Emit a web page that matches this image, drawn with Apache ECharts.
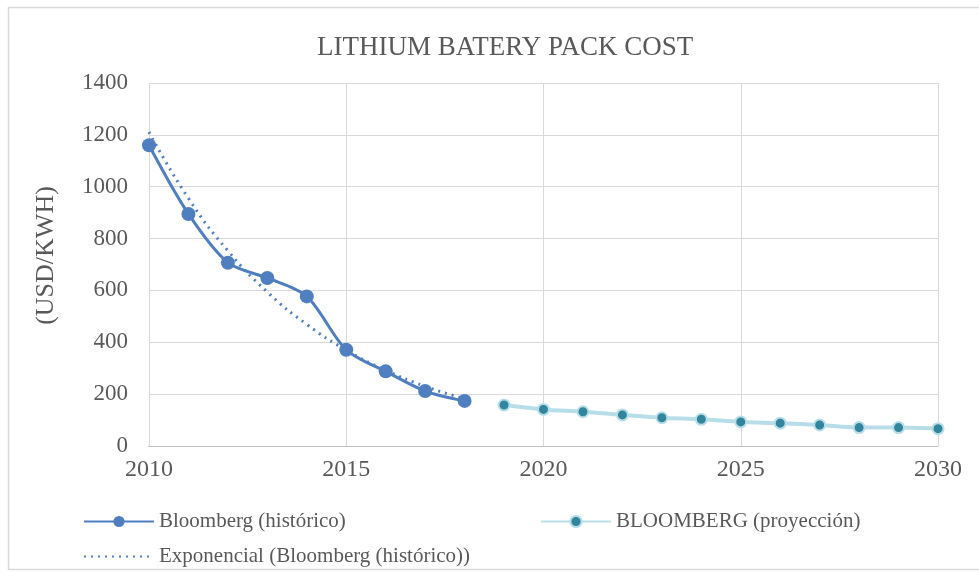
<!DOCTYPE html>
<html>
<head>
<meta charset="utf-8">
<script src="https://cdn.jsdelivr.net/npm/echarts@6/dist/echarts.min.js"></script>
<style>
  html, body { margin: 0; padding: 0; background: #fff; }
  #chart { width: 979px; height: 573px; }
</style>
</head>
<body>
<div id="chart"></div>
<script>
// Historical pack prices (USD/kWh)
const histYears = [2010, 2011, 2012, 2013, 2014, 2015, 2016, 2017, 2018];
const histValues = [1160, 895, 707, 648, 577, 371, 288, 212, 174];

// Projected pack prices
const projYears = [2019, 2020, 2021, 2022, 2023, 2024, 2025, 2026, 2027, 2028, 2029, 2030];
const projValues = [158, 141, 132, 120, 109, 103, 93, 88, 81, 71, 71, 67];

// Exponential trend over the historical period
const trendYears = [2010, 2011, 2012, 2013, 2014, 2015, 2016, 2017, 2018];
const trendValues = [1211, 955, 753, 594, 469, 370, 292, 230, 182];

const yTicks = [0, 200, 400, 600, 800, 1000, 1200, 1400];

const pair = (xs, ys) => xs.map((x, i) => [x, ys[i]]);

const FONT = '"Liberation Serif", "Times New Roman", serif';
const TXT = '#595959';
const HIST = '#4f7fc0';

const chart = echarts.init(document.getElementById('chart'), null, { renderer: 'canvas' });

const legendBase = {
  orient: 'horizontal',
  itemWidth: 70,
  itemHeight: 14,
  itemGap: 6,
  textStyle: { fontFamily: FONT, fontSize: 21, color: TXT },
  selectedMode: false
};

chart.setOption({
  backgroundColor: '#fff',
  animation: false,
  title: {
    text: 'LITHIUM BATERY PACK COST',
    left: 312,
    top: 29,
    textStyle: { fontFamily: FONT, fontSize: 27, fontWeight: 'normal', color: TXT }
  },
  graphic: [{
    type: 'rect',
    shape: { x: 8.5, y: 7.5, width: 975, height: 562 },
    style: { fill: 'none', stroke: '#d9d9d9', lineWidth: 1.5 },
    silent: true
  }],
  legend: [
    Object.assign({}, legendBase, { left: 78, top: 506, data: ['Bloomberg (histórico)'] }),
    Object.assign({}, legendBase, { left: 535, top: 506, data: ['BLOOMBERG (proyección)'] }),
    Object.assign({}, legendBase, {
      left: 78, top: 541,
      data: [{ name: 'Exponencial (Bloomberg (histórico))', itemStyle: { opacity: 0 } }]
    })
  ],
  grid: { left: 149, right: 41, top: 83, bottom: 127, containLabel: false },
  xAxis: {
    type: 'value',
    min: 2010,
    max: 2030,
    interval: 5,
    axisLine: { show: true, lineStyle: { color: '#bfbfbf', width: 1 } },
    axisTick: { show: false },
    axisLabel: { fontFamily: FONT, fontSize: 24, color: TXT, margin: 12, formatter: v => String(v) },
    splitLine: { show: true, lineStyle: { color: '#d9d9d9', width: 1 } }
  },
  yAxis: {
    type: 'value',
    min: yTicks[0],
    max: yTicks[yTicks.length - 1],
    interval: 200,
    name: '(USD/KWH)',
    nameLocation: 'middle',
    nameGap: 90,
    nameRotate: 90,
    nameTextStyle: { fontFamily: FONT, fontSize: 26, color: TXT, padding: [0, 0, 0, 18] },
    axisLine: { show: false },
    axisTick: { show: false },
    axisLabel: { fontFamily: FONT, fontSize: 23, color: TXT, margin: 21, formatter: v => String(v) },
    splitLine: { show: true, lineStyle: { color: '#d9d9d9', width: 1 } }
  },
  series: [
    {
      name: 'Bloomberg (histórico)',
      type: 'line',
      data: pair(histYears, histValues),
      smooth: 0.3,
      symbol: 'circle',
      symbolSize: 14,
      lineStyle: { color: HIST, width: 3 },
      itemStyle: { color: HIST },
      z: 3
    },
    {
      name: 'BLOOMBERG (proyección)',
      type: 'line',
      data: pair(projYears, projValues),
      smooth: 0.3,
      symbol: 'circle',
      symbolSize: 11,
      lineStyle: { color: '#b7dee8', width: 4 },
      itemStyle: { color: '#31859c', borderColor: '#b7dee8', borderWidth: 2 },
      z: 3
    },
    {
      name: 'Exponencial (Bloomberg (histórico))',
      type: 'line',
      data: pair(trendYears, trendValues),
      smooth: true,
      symbol: 'none',
      lineStyle: { color: HIST, width: 3, type: [2, 5] },
      itemStyle: { color: HIST },
      z: 2
    }
  ]
});
</script>
</body>
</html>
